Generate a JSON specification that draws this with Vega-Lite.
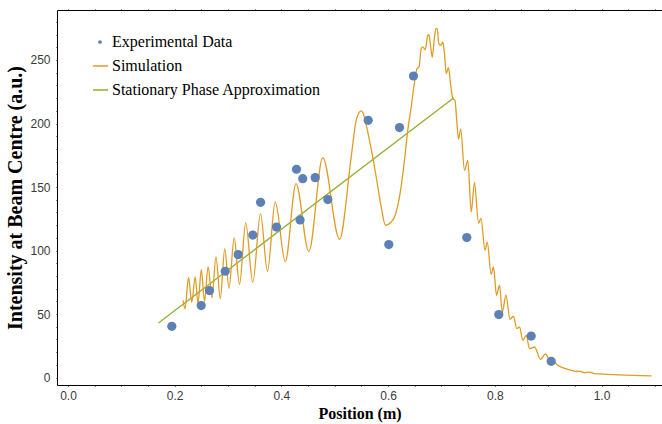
{
  "$schema": "https://vega.github.io/schema/vega-lite/v6.json",
  "width": 605,
  "height": 375,
  "autosize": {"type": "none"},
  "padding": {"left": 57, "top": 10, "right": 0, "bottom": 39},
  "background": "white",
  "config": {
    "view": {"stroke": null},
    "axis": {
      "labelFont": "Liberation Sans",
      "labelFontSize": 12,
      "labelColor": "#3a3a3a",
      "titleFont": "Liberation Serif",
      "titleFontWeight": "bold",
      "titleColor": "black",
      "domainColor": "black",
      "domainWidth": 1,
      "tickColor": "black",
      "tickWidth": 1,
      "grid": false
    },
    "legend": {
      "orient": "none", "title": null, "padding": 0,
      "labelFont": "Liberation Serif", "labelFontSize": 16, "labelColor": "black", "labelLimit": 400,
      "clipHeight": 24, "rowPadding": 0
    }
  },
  "datasets": {
    "exp": [
      {"x": 0.1946, "y": 40.4, "series": "Experimental Data"},
      {"x": 0.2497, "y": 56.7, "series": "Experimental Data"},
      {"x": 0.2652, "y": 68.5, "series": "Experimental Data"},
      {"x": 0.2947, "y": 83.7, "series": "Experimental Data"},
      {"x": 0.319, "y": 96.8, "series": "Experimental Data"},
      {"x": 0.3464, "y": 112.2, "series": "Experimental Data"},
      {"x": 0.361, "y": 138.0, "series": "Experimental Data"},
      {"x": 0.3908, "y": 118.5, "series": "Experimental Data"},
      {"x": 0.4283, "y": 164.0, "series": "Experimental Data"},
      {"x": 0.435, "y": 124.1, "series": "Experimental Data"},
      {"x": 0.44, "y": 156.6, "series": "Experimental Data"},
      {"x": 0.4634, "y": 157.4, "series": "Experimental Data"},
      {"x": 0.487, "y": 140.1, "series": "Experimental Data"},
      {"x": 0.5627, "y": 202.5, "series": "Experimental Data"},
      {"x": 0.6013, "y": 104.7, "series": "Experimental Data"},
      {"x": 0.6214, "y": 196.8, "series": "Experimental Data"},
      {"x": 0.6476, "y": 237.4, "series": "Experimental Data"},
      {"x": 0.7475, "y": 110.2, "series": "Experimental Data"},
      {"x": 0.8075, "y": 49.6, "series": "Experimental Data"},
      {"x": 0.8682, "y": 32.7, "series": "Experimental Data"},
      {"x": 0.9057, "y": 12.8, "series": "Experimental Data"}
    ],
    "sim": [
      {"x": 0.2156, "y": 60.8, "series": "Simulation"},
      {"x": 0.2193, "y": 54.3, "series": "Simulation"},
      {"x": 0.2259, "y": 78.6, "series": "Simulation"},
      {"x": 0.2321, "y": 59.3, "series": "Simulation"},
      {"x": 0.2384, "y": 79.3, "series": "Simulation"},
      {"x": 0.2437, "y": 58.5, "series": "Simulation"},
      {"x": 0.2499, "y": 84.9, "series": "Simulation"},
      {"x": 0.2559, "y": 60.1, "series": "Simulation"},
      {"x": 0.2626, "y": 87.1, "series": "Simulation"},
      {"x": 0.2699, "y": 63.0, "series": "Simulation"},
      {"x": 0.2774, "y": 95.1, "series": "Simulation"},
      {"x": 0.2855, "y": 62.2, "series": "Simulation"},
      {"x": 0.2939, "y": 101.5, "series": "Simulation"},
      {"x": 0.3018, "y": 70.3, "series": "Simulation"},
      {"x": 0.3115, "y": 110.0, "series": "Simulation"},
      {"x": 0.3215, "y": 73.4, "series": "Simulation"},
      {"x": 0.3331, "y": 121.7, "series": "Simulation"},
      {"x": 0.3464, "y": 75.0, "series": "Simulation"},
      {"x": 0.3608, "y": 129.1, "series": "Simulation"},
      {"x": 0.3739, "y": 83.7, "series": "Simulation"},
      {"x": 0.3884, "y": 138.2, "series": "Simulation"},
      {"x": 0.4073, "y": 91.3, "series": "Simulation"},
      {"x": 0.4274, "y": 152.7, "series": "Simulation"},
      {"x": 0.4514, "y": 99.2, "series": "Simulation"},
      {"x": 0.4776, "y": 173.2, "series": "Simulation"},
      {"x": 0.5089, "y": 108.9, "series": "Simulation"},
      {"x": 0.5308, "y": 173.6, "series": "Simulation"},
      {"x": 0.5402, "y": 202.5, "series": "Simulation"},
      {"x": 0.5496, "y": 209.9, "series": "Simulation"},
      {"x": 0.5651, "y": 186.8, "series": "Simulation"},
      {"x": 0.5777, "y": 157.9, "series": "Simulation"},
      {"x": 0.5871, "y": 134.3, "series": "Simulation"},
      {"x": 0.5951, "y": 119.9, "series": "Simulation"},
      {"x": 0.6058, "y": 122.5, "series": "Simulation"},
      {"x": 0.612, "y": 126.4, "series": "Simulation"},
      {"x": 0.6214, "y": 142.2, "series": "Simulation"},
      {"x": 0.6307, "y": 171.0, "series": "Simulation"},
      {"x": 0.6369, "y": 194.7, "series": "Simulation"},
      {"x": 0.6433, "y": 213.0, "series": "Simulation"},
      {"x": 0.6495, "y": 232.4, "series": "Simulation"},
      {"x": 0.6542, "y": 243.2, "series": "Simulation"},
      {"x": 0.6579, "y": 244.5, "series": "Simulation"},
      {"x": 0.6621, "y": 259.2, "series": "Simulation"},
      {"x": 0.665, "y": 260.4, "series": "Simulation"},
      {"x": 0.6695, "y": 258.0, "series": "Simulation"},
      {"x": 0.6739, "y": 268.7, "series": "Simulation"},
      {"x": 0.6763, "y": 270.2, "series": "Simulation"},
      {"x": 0.6795, "y": 261.6, "series": "Simulation"},
      {"x": 0.6827, "y": 252.1, "series": "Simulation"},
      {"x": 0.687, "y": 268.1, "series": "Simulation"},
      {"x": 0.6898, "y": 274.7, "series": "Simulation"},
      {"x": 0.692, "y": 274.7, "series": "Simulation"},
      {"x": 0.695, "y": 262.9, "series": "Simulation"},
      {"x": 0.6992, "y": 261.6, "series": "Simulation"},
      {"x": 0.7025, "y": 264.2, "series": "Simulation"},
      {"x": 0.7057, "y": 255.0, "series": "Simulation"},
      {"x": 0.7089, "y": 239.3, "series": "Simulation"},
      {"x": 0.7132, "y": 243.9, "series": "Simulation"},
      {"x": 0.7175, "y": 229.3, "series": "Simulation"},
      {"x": 0.7217, "y": 219.6, "series": "Simulation"},
      {"x": 0.7254, "y": 218.3, "series": "Simulation"},
      {"x": 0.7282, "y": 204.9, "series": "Simulation"},
      {"x": 0.732, "y": 187.6, "series": "Simulation"},
      {"x": 0.7361, "y": 195.6, "series": "Simulation"},
      {"x": 0.7432, "y": 163.2, "series": "Simulation"},
      {"x": 0.7494, "y": 171.0, "series": "Simulation"},
      {"x": 0.7558, "y": 130.4, "series": "Simulation"},
      {"x": 0.7619, "y": 153.7, "series": "Simulation"},
      {"x": 0.7695, "y": 121.5, "series": "Simulation"},
      {"x": 0.7741, "y": 125.4, "series": "Simulation"},
      {"x": 0.7816, "y": 100.2, "series": "Simulation"},
      {"x": 0.7859, "y": 106.7, "series": "Simulation"},
      {"x": 0.7932, "y": 81.3, "series": "Simulation"},
      {"x": 0.7976, "y": 87.1, "series": "Simulation"},
      {"x": 0.8032, "y": 64.8, "series": "Simulation"},
      {"x": 0.8088, "y": 72.7, "series": "Simulation"},
      {"x": 0.8139, "y": 51.4, "series": "Simulation"},
      {"x": 0.821, "y": 64.8, "series": "Simulation"},
      {"x": 0.8285, "y": 45.9, "series": "Simulation"},
      {"x": 0.835, "y": 48.3, "series": "Simulation"},
      {"x": 0.8412, "y": 38.6, "series": "Simulation"},
      {"x": 0.8463, "y": 40.0, "series": "Simulation"},
      {"x": 0.8525, "y": 29.4, "series": "Simulation"},
      {"x": 0.8589, "y": 33.3, "series": "Simulation"},
      {"x": 0.865, "y": 22.8, "series": "Simulation"},
      {"x": 0.8744, "y": 24.1, "series": "Simulation"},
      {"x": 0.8857, "y": 14.4, "series": "Simulation"},
      {"x": 0.895, "y": 18.7, "series": "Simulation"},
      {"x": 0.9057, "y": 11.3, "series": "Simulation"},
      {"x": 0.9119, "y": 12.0, "series": "Simulation"},
      {"x": 0.9181, "y": 9.7, "series": "Simulation"},
      {"x": 0.9306, "y": 7.3, "series": "Simulation"},
      {"x": 0.94, "y": 6.1, "series": "Simulation"},
      {"x": 0.9526, "y": 4.8, "series": "Simulation"},
      {"x": 0.9588, "y": 5.1, "series": "Simulation"},
      {"x": 0.9681, "y": 3.8, "series": "Simulation"},
      {"x": 0.9775, "y": 4.3, "series": "Simulation"},
      {"x": 0.9869, "y": 3.2, "series": "Simulation"},
      {"x": 1.0019, "y": 2.8, "series": "Simulation"},
      {"x": 1.0337, "y": 2.1, "series": "Simulation"},
      {"x": 1.0937, "y": 1.3, "series": "Simulation"}
    ],
    "spa": [
      {"x": 0.1696, "y": 43.0, "series": "Stationary Phase Approximation"},
      {"x": 0.7227, "y": 220.1, "series": "Stationary Phase Approximation"}
    ]
  },
  "resolve": {"axis": {"x": "independent", "y": "independent"}},
  "layer": [
    {
      "data": {"name": "spa"},
      "mark": {"type": "line", "strokeWidth": 1.3},
      "encoding": {
        "x": {"field": "x", "type": "quantitative", "scale": {"domain": [-0.0206, 1.1134], "nice": false, "zero": false}, "axis": null},
        "y": {"field": "y", "type": "quantitative", "scale": {"domain": [-5.83, 289.35], "nice": false, "zero": false}, "axis": null},
        "stroke": {
          "field": "series", "type": "nominal",
          "scale": {"domain": ["Simulation", "Stationary Phase Approximation"], "range": ["#e19c24", "#8fb032"]},
          "legend": {"legendX": 35, "legendY": 44, "symbolSize": 225, "symbolStrokeWidth": 1.3, "labelOffset": 3}
        }
      }
    },
    {
      "data": {"name": "sim"},
      "mark": {"type": "line", "strokeWidth": 1.3, "interpolate": "monotone"},
      "encoding": {
        "x": {
          "field": "x", "type": "quantitative",
          "axis": {
            "orient": "top", "title": null, "labels": false, "domain": true, "tickSize": 1,
            "values": [0, 0.05, 0.1, 0.15, 0.2, 0.25, 0.3, 0.35, 0.4, 0.45, 0.5, 0.55, 0.6, 0.65, 0.7, 0.75, 0.8, 0.85, 0.9, 0.95, 1.0, 1.05, 1.1],
            "encode": {"ticks": {"update": {"y2": {"signal": "abs(datum.value*5 - round(datum.value*5)) < 0.001 ? 5 : 2.5"}}}}
          }
        },
        "y": {
          "field": "y", "type": "quantitative",
          "axis": {
            "orient": "right", "title": null, "labels": false, "domain": false, "tickSize": 1,
            "values": [0, 10, 20, 30, 40, 50, 60, 70, 80, 90, 100, 110, 120, 130, 140, 150, 160, 170, 180, 190, 200, 210, 220, 230, 240, 250, 260, 270, 280],
            "encode": {"ticks": {"update": {"x2": {"signal": "datum.value % 50 === 0 ? -5 : -2.5"}}}}
          }
        },
        "stroke": {"field": "series", "type": "nominal"}
      }
    },
    {
      "data": {"name": "exp"},
      "mark": {"type": "point", "filled": true, "size": 85, "opacity": 1, "strokeWidth": 0},
      "encoding": {
        "x": {
          "field": "x", "type": "quantitative",
          "axis": {
            "orient": "bottom", "title": "Position (m)", "titleFontSize": 16, "titlePadding": 4,
            "tickSize": 1, "labelPadding": 4, "labelFlush": false, "labelOverlap": false,
            "values": [0, 0.05, 0.1, 0.15, 0.2, 0.25, 0.3, 0.35, 0.4, 0.45, 0.5, 0.55, 0.6, 0.65, 0.7, 0.75, 0.8, 0.85, 0.9, 0.95, 1.0, 1.05, 1.1],
            "labelExpr": "abs(datum.value*5 - round(datum.value*5)) < 0.001 ? format(datum.value, '.1f') : ''",
            "encode": {"ticks": {"update": {"y2": {"signal": "abs(datum.value*5 - round(datum.value*5)) < 0.001 ? -5 : -2.5"}}}}
          }
        },
        "y": {
          "field": "y", "type": "quantitative",
          "axis": {
            "orient": "left", "title": "Intensity at Beam Centre (a.u.)", "titleFontSize": 20, "titlePadding": 4,
            "tickSize": 1, "labelPadding": 6, "labelFlush": false, "labelOverlap": false,
            "values": [0, 10, 20, 30, 40, 50, 60, 70, 80, 90, 100, 110, 120, 130, 140, 150, 160, 170, 180, 190, 200, 210, 220, 230, 240, 250, 260, 270, 280],
            "labelExpr": "datum.value % 50 === 0 ? datum.label : ''",
            "encode": {"ticks": {"update": {"x2": {"signal": "datum.value % 50 === 0 ? 5 : 2.5"}}}}
          }
        },
        "fill": {
          "field": "series", "type": "nominal",
          "scale": {"domain": ["Experimental Data"], "range": ["#5e81b5"]},
          "legend": {"legendX": 35, "legendY": 20, "symbolSize": 14, "symbolType": "circle", "labelOffset": 4}
        }
      }
    }
  ]
}
